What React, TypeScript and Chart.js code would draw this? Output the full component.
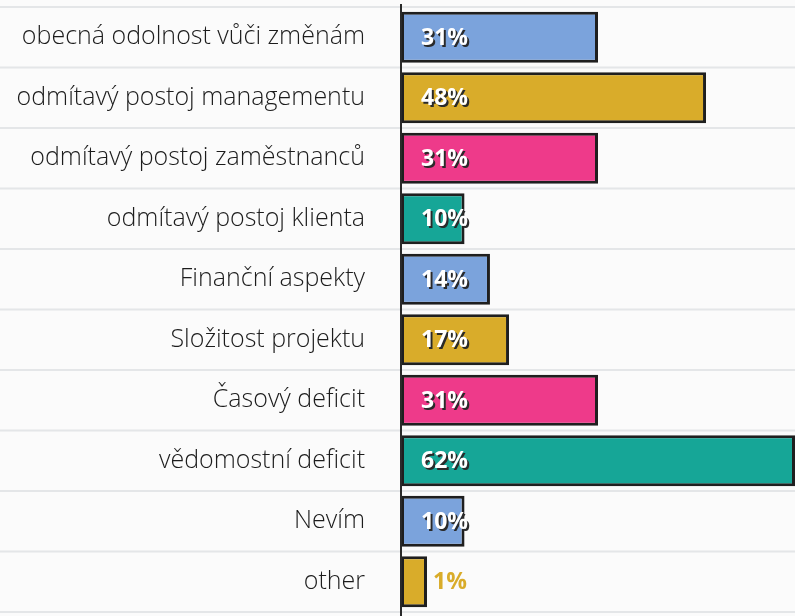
import React, { useEffect, useRef } from "react";
import { Chart, registerables } from "chart.js";

Chart.register(...registerables);

const categories: string[] = [
  "obecná odolnost vůči změnám",
  "odmítavý postoj managementu",
  "odmítavý postoj zaměstnanců",
  "odmítavý postoj klienta",
  "Finanční aspekty",
  "Složitost projektu",
  "Časový deficit",
  "vědomostní deficit",
  "Nevím",
  "other",
];

const values: number[] = [31, 48, 31, 10, 14, 17, 31, 62, 10, 1];

const palette: string[] = ["#7ba3dc", "#d9ac2a", "#ee3a8a", "#16a697"];

const FONT = "'Open Sans', 'DejaVu Sans', sans-serif";

const paperPlugin = {
  id: "paper",
  beforeDraw(chart: any) {
    const { ctx, width, height } = chart;
    ctx.save();
    ctx.fillStyle = "#fbfbfb";
    ctx.fillRect(0, 0, width, height);
    const y = chart.scales.y;
    const n = categories.length;
    const step = n > 1 ? y.getPixelForValue(1) - y.getPixelForValue(0) : 60;
    ctx.strokeStyle = "#e4e6e8";
    ctx.lineWidth = 2;
    for (let i = 0; i <= n; i++) {
      const py = y.getPixelForValue(0) + (i - 0.5) * step;
      ctx.beginPath();
      ctx.moveTo(0, py);
      ctx.lineTo(width, py);
      ctx.stroke();
    }
    ctx.restore();
  },
  afterDatasetsDraw(chart: any) {
    const { ctx, chartArea } = chart;
    const meta = chart.getDatasetMeta(0);
    ctx.save();
    // axis line
    ctx.strokeStyle = "#2a2a2a";
    ctx.lineWidth = 2;
    ctx.beginPath();
    ctx.moveTo(chartArea.left, 4);
    ctx.lineTo(chartArea.left, chart.height);
    ctx.stroke();
    // value labels
    ctx.font = `bold 23px ${FONT}`;
    ctx.textBaseline = "middle";
    ctx.textAlign = "left";
    meta.data.forEach((bar: any, i: number) => {
      const v = values[i];
      const text = `${v}%`;
      if (v < 5) {
        ctx.shadowColor = "transparent";
        ctx.fillStyle = palette[i % palette.length];
        ctx.fillText(text, bar.x + 6, bar.y + 1);
      } else {
        ctx.shadowColor = "#2a2a2a";
        ctx.shadowOffsetX = 2;
        ctx.shadowOffsetY = 2;
        ctx.shadowBlur = 0;
        ctx.fillStyle = "#ffffff";
        ctx.fillText(text, bar.base + 20, bar.y + 1);
      }
    });
    ctx.restore();
  },
};

export default function App() {
  const ref = useRef<HTMLCanvasElement | null>(null);

  useEffect(() => {
    if (!ref.current) return;
    const chart = new Chart(ref.current, {
      type: "bar",
      data: {
        labels: categories,
        datasets: [
          {
            data: values,
            backgroundColor: values.map((_, i) => palette[i % palette.length]),
            borderColor: "#1f1f1f",
            borderWidth: 3,
            borderSkipped: false,
            barPercentage: 0.84,
            categoryPercentage: 1,
            minBarLength: 26,
          },
        ],
      },
      options: {
        indexAxis: "y",
        animation: false,
        responsive: false,
        maintainAspectRatio: false,
        layout: { padding: { top: 7, bottom: 4, left: 0, right: 0 } },
        plugins: {
          legend: { display: false },
          tooltip: { enabled: false },
        },
        scales: {
          x: {
            display: false,
            min: 0,
            max: 62,
          },
          y: {
            grid: { display: false },
            border: { display: false },
            ticks: {
              color: "#1c1c1c",
              padding: 28,
              font: { family: FONT, size: 25, weight: "300" },
            },
            afterFit(scale: any) {
              scale.width = 401;
              scale.paddingTop = 0;
              scale.paddingBottom = 0;
            },
          },
        },
      },
      plugins: [paperPlugin],
    });
    return () => chart.destroy();
  }, []);

  return (
    <div style={{ position: "fixed", left: 0, top: 0, width: 795, height: 616 }}>
      <canvas ref={ref} width={795} height={616} />
    </div>
  );
}
